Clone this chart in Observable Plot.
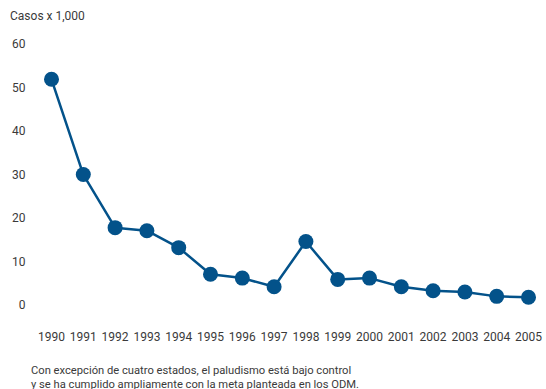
<!DOCTYPE html>
<html>
<head>
<meta charset="utf-8">
<script src="https://cdn.jsdelivr.net/npm/d3@7"></script>
<script src="https://cdn.jsdelivr.net/npm/@observablehq/plot@0.6"></script>
<style>
  html, body { margin: 0; padding: 0; background: #fff; }
  body { width: 546px; height: 389px; overflow: hidden; position: relative; font-family: Roboto, "Noto Sans", sans-serif; color: #3a3a3a; }
  #title { position: absolute; left: 10px; top: 9px; font-size: 12px; }
  #chart { position: absolute; left: 0; top: 0; }
  #caption { position: absolute; left: 31px; top: 364px; font-size: 11.2px; line-height: 14px; }
</style>
</head>
<body>
<div id="chart"></div>
<div id="title">Casos x 1,000</div>
<div id="caption">Con excepción de cuatro estados, el paludismo está bajo control<br>y se ha cumplido ampliamente con la meta planteada en los ODM.</div>
<script>
const years = [1990, 1991, 1992, 1993, 1994, 1995, 1996, 1997, 1998, 1999, 2000, 2001, 2002, 2003, 2004, 2005];
const cases = [52, 30.1, 17.9, 17.2, 13.3, 7.2, 6.3, 4.3, 14.7, 6.0, 6.3, 4.3, 3.4, 3.1, 2.1, 1.9];
const yTicks = [0, 10, 20, 30, 40, 50, 60];

const data = years.map((y, i) => ({year: y, value: cases[i]}));
const color = "#03528a";

const chart = Plot.plot({
  width: 546,
  height: 345,
  marginTop: 44,
  marginBottom: 40,
  marginLeft: 51,
  marginRight: 18,
  style: {fontFamily: "Roboto, 'Noto Sans', sans-serif", fontSize: "12px", color: "#3a3a3a", background: "transparent"},
  x: {domain: [1990, 2005]},
  y: {domain: [0, 60]},
  marks: [
    Plot.axisX({ticks: years, tickFormat: d => String(d), tickSize: 0, tickPadding: 27, label: null, fontSize: 12}),
    Plot.axisY({ticks: yTicks, tickSize: 0, tickPadding: 26, label: null, fontSize: 12}),
    Plot.line(data, {x: "year", y: "value", stroke: color, strokeWidth: 2.5}),
    Plot.dot(data, {x: "year", y: "value", r: 7.5, fill: color, stroke: "none"})
  ]
});
document.getElementById("chart").appendChild(chart);
</script>
</body>
</html>
